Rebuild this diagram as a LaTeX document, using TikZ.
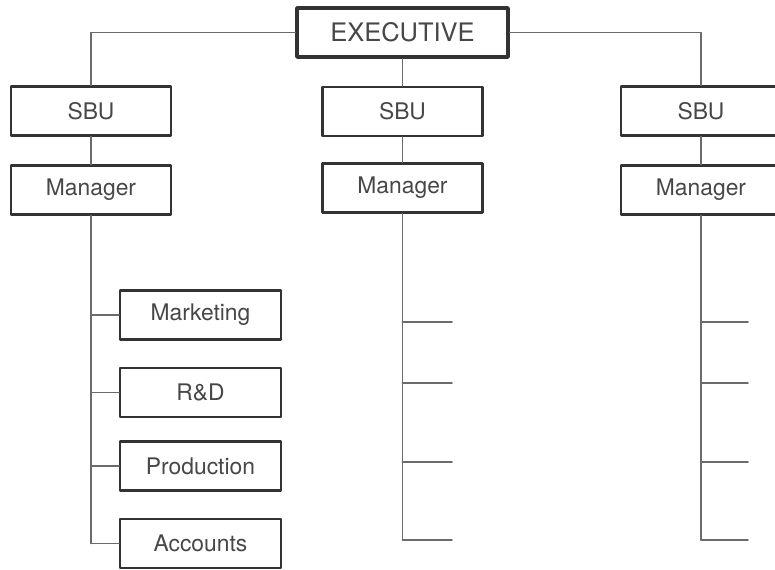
\documentclass[tikz,border=0pt]{standalone}
\usepackage{fontspec}
\setmainfont{TeX Gyre Heros}
\usetikzlibrary{positioning}
\definecolor{linegray}{rgb}{0.42,0.42,0.42}
\definecolor{boxgray}{rgb}{0.2,0.2,0.2}
\definecolor{textgray}{rgb}{0.28,0.28,0.28}

\begin{document}
\begin{tikzpicture}[line cap=round,line join=round,x=0.02cm,y=-0.02cm,
	box/.style={draw=boxgray,line width=1.2pt,fill=white,text=textgray,minimum width=3.2cm,minimum height=0.98cm,inner sep=0pt,font=\fontsize{13}{15}\selectfont},
	link/.style={color=linegray,line width=1pt}]
	\clip (0,0) rectangle (775,569);
	\node[box,line width=2pt,minimum width=4.22cm,font=\fontsize{14.5}{17}\selectfont] (exec) at (402.5,32.5) {EXECUTIVE};
	\node[box] (sbuL) at (91,111) {SBU};
	\node[box] (sbuM) at (402.5,111.5) {SBU};
	\node[box] (sbuR) at (701,111) {SBU};
	\node[box] (mgrL) at (91,190) {Manager};
	\node[box] (mgrM) at (402.5,188) {Manager};
	\node[box] (mgrR) at (701,190) {Manager};
	\node[box,minimum width=3.22cm] (mkt) at (200.5,315) {Marketing};
	\node[box,minimum width=3.22cm] (rnd) at (200.5,392.5) {R\&D};
	\node[box,minimum width=3.22cm] (prod) at (200.5,466) {Production};
	\node[box,minimum width=3.22cm] (acc) at (200.5,543.5) {Accounts};
	\draw[link] (exec.west) -| (sbuL.north);
	\draw[link] (exec.east) -| (sbuR.north);
	\draw[link] (exec.south) -- (sbuM.north);
	\draw[link] (sbuL.south) -- (mgrL.north);
	\draw[link] (sbuM.south) -- (mgrM.north);
	\draw[link] (sbuR.south) -- (mgrR.north);
	\draw[link] (mgrL.south) -- (mgrL.south |- acc.west);
	\foreach \n in {mkt,rnd,prod,acc}
	\draw[link] (mgrL.south |- \n.west) -- (\n.west);
	\foreach \y [count=\i] in {322,383,462,540} {
		\coordinate (tm\i) at (452,\y);
		\coordinate (tr\i) at (748,\y);
		\draw[link] (mgrM.south |- tm\i) -- (tm\i);
		\draw[link] (mgrR.south |- tr\i) -- (tr\i);
	}
	\draw[link] (mgrM.south) -- (mgrM.south |- tm4);
	\draw[link] (mgrR.south) -- (mgrR.south |- tr4);
\end{tikzpicture}
\end{document}
